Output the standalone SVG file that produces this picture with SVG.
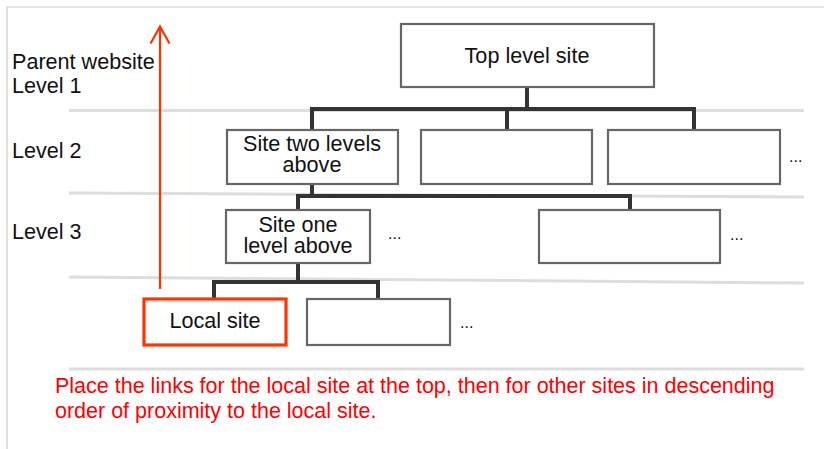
<svg xmlns="http://www.w3.org/2000/svg" width="824" height="449" viewBox="0 0 824 449">
<style>
.frame{stroke:#cccccc;stroke-width:1.2;fill:none}
.sep{stroke:#dddddd;stroke-width:3;fill:none}
.box{fill:#ffffff;stroke:#666666;stroke-width:2.2}
.local{fill:#ffffff;stroke:#ff3300;stroke-width:3.2}
.conn{stroke:#333333;stroke-width:4;fill:none}
.t{font-family:"Liberation Sans",Arial,sans-serif;font-size:21.6px;fill:#111111}
.c{text-anchor:middle}
.dots{font-family:"Liberation Sans",Arial,sans-serif;font-size:16px;fill:#111111}
.note{font-family:"Liberation Sans",Arial,sans-serif;font-size:21.5px;fill:#ff0000}
.arrow{stroke:#ff3300;stroke-width:2.2;fill:none}
</style>
<rect x="0" y="0" width="824" height="449" fill="#ffffff"/>
<path class="frame" d="M7,449 V7 H824"/>
<g id="separators">
<path class="sep" d="M69,110.5 L804,110.5"/>
<path class="sep" d="M69,193 L804,197"/>
<path class="sep" d="M69,277 L804,283"/>
<path class="sep" d="M69,369 L804,369"/>
</g>
<g id="labels">
<text class="t" x="12" y="69">Parent website</text>
<text class="t" x="12" y="93">Level 1</text>
<text class="t" x="12" y="158">Level 2</text>
<text class="t" x="12" y="239">Level 3</text>
</g>
<g id="connectors">
<path class="conn" d="M527,87 V109 M312,109 H694 M312,107 V130 M507,107 V130 M694,107 V130"/>
<path class="conn" d="M312,184 V196 M298,196 H630 M298,194 V210 M630,194 V210"/>
<path class="conn" d="M298,263 V282 M214,282 H378 M214,280 V299 M378,280 V299"/>
<path class="arrow" d="M160,289 V27 M150.5,43.5 L160,26.5 L169.5,43.5"/>
</g>
<g id="top">
<rect class="box" x="401" y="24" width="253" height="63"/>
<text class="t c" x="527" y="63">Top level site</text>
</g>
<g id="two-levels-above">
<rect class="box" x="227" y="130" width="171" height="54"/>
<text class="t c" x="312" y="151">Site two levels</text>
<text class="t c" x="312" y="171.5">above</text>
</g>
<g id="level2-b">
<rect class="box" x="421" y="130" width="171" height="54"/>
</g>
<g id="level2-c">
<rect class="box" x="608" y="130" width="172" height="54"/>
</g>
<text class="dots" x="789" y="162">...</text>
<g id="one-level-above">
<rect class="box" x="226" y="210" width="144" height="53"/>
<text class="t c" x="298" y="231.5">Site one</text>
<text class="t c" x="298" y="252.5">level above</text>
</g>
<text class="dots" x="388" y="239">...</text>
<g id="level3-b">
<rect class="box" x="539" y="210" width="181" height="53"/>
</g>
<text class="dots" x="730" y="240">...</text>
<g id="local">
<rect class="local" x="144" y="299" width="142" height="46"/>
<text class="t c" x="215" y="328">Local site</text>
</g>
<g id="sibling">
<rect class="box" x="307" y="299" width="143" height="46"/>
</g>
<text class="dots" x="460" y="328">...</text>
<g id="note">
<text class="note" x="55" y="393">Place the links for the local site at the top, then for other sites in descending</text>
<text class="note" x="55" y="418">order of proximity to the local site.</text>
</g>
</svg>
